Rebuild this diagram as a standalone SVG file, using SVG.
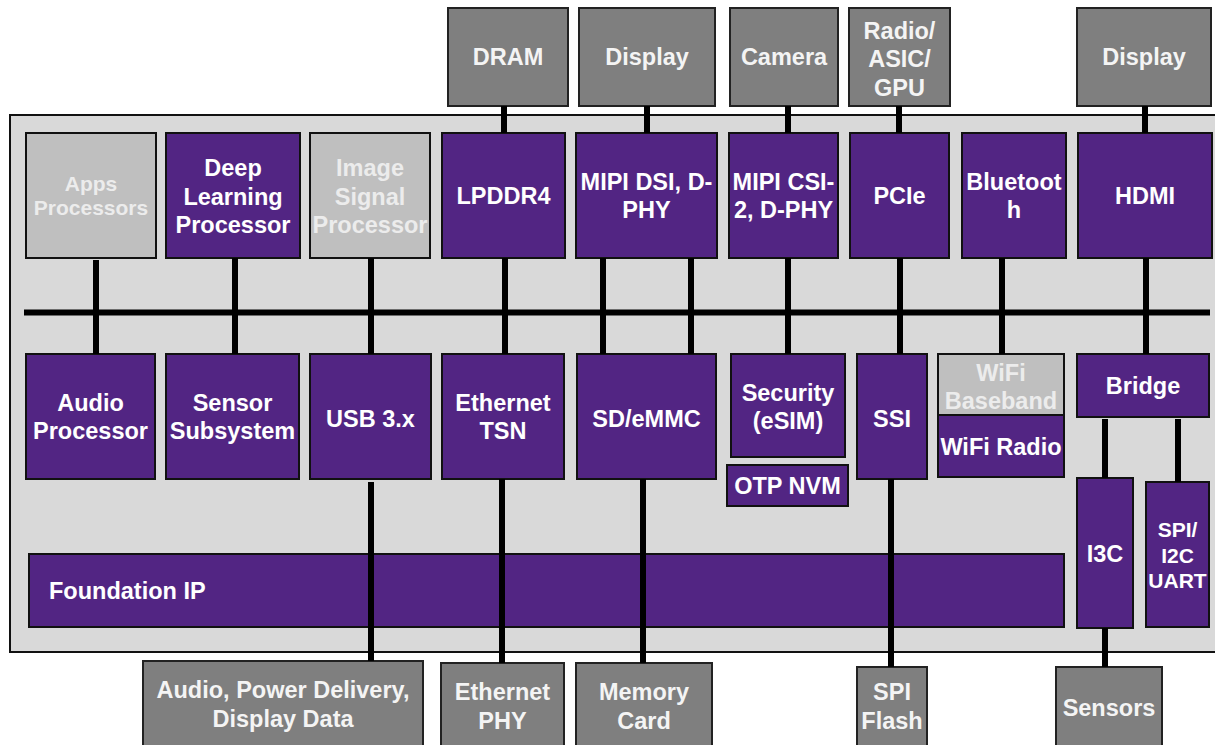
<svg xmlns="http://www.w3.org/2000/svg" width="1215" height="745" viewBox="0 0 1215 745">
<style>
.chip{fill:#d9d9d9;stroke:#111;stroke-width:2}
.p{fill:#522583;stroke:#111;stroke-width:2}
.g{fill:#bfbfbf;stroke:#111;stroke-width:2}
.x{fill:#7f7f7f;stroke:#222;stroke-width:2}
.t{font-family:"Liberation Sans",Arial,sans-serif;font-weight:bold;font-size:23.5px;fill:#ffffff;text-anchor:middle}
.s{font-size:21px}
.l{fill:#ececec}
.w{fill:#f4f4f4}
.c line{stroke:#000;stroke-width:6}
</style>
<rect width="1215" height="745" fill="#ffffff"/>
<g id="chip"><rect class="chip" x="10" y="115" width="1220" height="537"/></g>

<g id="dram"><rect class="x" x="448" y="8" width="120" height="98"/><text class="t w" x="508" y="65">DRAM</text></g>
<g id="display1"><rect class="x" x="579" y="8" width="136" height="98"/><text class="t w" x="647" y="65">Display</text></g>
<g id="camera"><rect class="x" x="730" y="8" width="108" height="98"/><text class="t w" x="784" y="65">Camera</text></g>
<g id="radio"><rect class="x" x="849" y="8" width="101" height="98"/><text class="t w" x="899.5" y="38.5">Radio/</text><text class="t w" x="899.5" y="67">ASIC/</text><text class="t w" x="899.5" y="95.5">GPU</text></g>
<g id="display2"><rect class="x" x="1077" y="8" width="134" height="98"/><text class="t w" x="1144" y="65">Display</text></g>

<g id="apps"><rect class="g" x="26" y="133" width="130" height="125"/><text class="t s l" x="91" y="191">Apps</text><text class="t s l" x="91" y="215">Processors</text></g>
<g id="dlp"><rect class="p" x="166" y="133" width="134" height="125"/><text class="t" x="233" y="176">Deep</text><text class="t" x="233" y="205">Learning</text><text class="t" x="233" y="233">Processor</text></g>
<g id="isp"><rect class="g" x="310" y="133" width="120" height="125"/><text class="t l" x="370" y="176">Image</text><text class="t l" x="370" y="205">Signal</text><text class="t l" x="370" y="233">Processor</text></g>
<g id="lpddr4"><rect class="p" x="442" y="133" width="123" height="125"/><text class="t" x="503.5" y="204">LPDDR4</text></g>
<g id="mipidsi"><rect class="p" x="576" y="133" width="141" height="125"/><text class="t" x="646.5" y="190">MIPI DSI, D-</text><text class="t" x="646.5" y="218">PHY</text></g>
<g id="mipicsi"><rect class="p" x="729" y="133" width="109" height="125"/><text class="t" x="783.5" y="190">MIPI CSI-</text><text class="t" x="783.5" y="218">2, D-PHY</text></g>
<g id="pcie"><rect class="p" x="850" y="133" width="99" height="125"/><text class="t" x="899.5" y="204">PCIe</text></g>
<g id="bluetooth"><rect class="p" x="962" y="133" width="104" height="125"/><text class="t" x="1014" y="190">Bluetoot</text><text class="t" x="1014" y="218">h</text></g>
<g id="hdmi"><rect class="p" x="1078" y="133" width="134" height="125"/><text class="t" x="1145" y="204">HDMI</text></g>

<g id="audio"><rect class="p" x="26" y="354" width="129" height="125"/><text class="t" x="90.5" y="411">Audio</text><text class="t" x="90.5" y="439">Processor</text></g>
<g id="sensor"><rect class="p" x="166" y="354" width="133" height="125"/><text class="t" x="232.5" y="411">Sensor</text><text class="t" x="232.5" y="439">Subsystem</text></g>
<g id="usb"><rect class="p" x="310" y="354" width="121" height="125"/><text class="t" x="370.5" y="426.5">USB 3.x</text></g>
<g id="ethtsn"><rect class="p" x="442" y="354" width="122" height="125"/><text class="t" x="503" y="411">Ethernet</text><text class="t" x="503" y="439">TSN</text></g>
<g id="sd"><rect class="p" x="577" y="354" width="139" height="125"/><text class="t" x="646.5" y="426.5">SD/eMMC</text></g>
<g id="security"><rect class="p" x="731" y="354" width="114" height="103"/><text class="t" x="788" y="400.5">Security</text><text class="t" x="788" y="429">(eSIM)</text></g>
<g id="otp"><rect class="p" x="727" y="465" width="121" height="41"/><text class="t" x="787.5" y="494">OTP NVM</text></g>
<g id="ssi"><rect class="p" x="857" y="354" width="70" height="125"/><text class="t" x="892" y="426.5">SSI</text></g>
<g id="wifibb"><rect class="g" x="938" y="354" width="126" height="61"/><text class="t l" x="1001" y="381">WiFi</text><text class="t l" x="1001" y="409">Baseband</text></g>
<g id="wifiradio"><rect class="p" x="938" y="415" width="126" height="62"/><text class="t" x="1001" y="455">WiFi Radio</text></g>
<g id="bridge"><rect class="p" x="1077" y="354" width="132" height="63"/><text class="t" x="1143" y="394">Bridge</text></g>
<g id="i3c"><rect class="p" x="1077" y="478" width="56" height="150"/><text class="t" x="1105" y="561.5">I3C</text></g>
<g id="spi"><rect class="p" x="1146" y="482" width="63" height="145"/><text class="t s" x="1177.5" y="536.5">SPI/</text><text class="t s" x="1177.5" y="562.5">I2C</text><text class="t s" x="1177.5" y="587.5">UART</text></g>
<g id="foundation"><rect class="p" x="29" y="554" width="1035" height="73"/><text class="t" x="49" y="599" text-anchor="start" style="text-anchor:start">Foundation IP</text></g>

<g id="audiopd"><rect class="x" x="143" y="661" width="280" height="90"/><text class="t w" x="283" y="697.5">Audio, Power Delivery,</text><text class="t w" x="283" y="726.5">Display Data</text></g>
<g id="ethphy"><rect class="x" x="441" y="663" width="123" height="90"/><text class="t w" x="502.5" y="700">Ethernet</text><text class="t w" x="502.5" y="728.5">PHY</text></g>
<g id="memcard"><rect class="x" x="576" y="663" width="136" height="90"/><text class="t w" x="644" y="700">Memory</text><text class="t w" x="644" y="728.5">Card</text></g>
<g id="spiflash"><rect class="x" x="857" y="667" width="70" height="90"/><text class="t w" x="892" y="700">SPI</text><text class="t w" x="892" y="728.5">Flash</text></g>
<g id="sensors"><rect class="x" x="1056" y="667" width="106" height="90"/><text class="t w" x="1109" y="715.5">Sensors</text></g>

<g id="connectors" class="c">
<line x1="504" y1="106" x2="504" y2="133"/>
<line x1="647" y1="106" x2="647" y2="133"/>
<line x1="788" y1="106" x2="788" y2="133"/>
<line x1="899" y1="106" x2="899" y2="133"/>
<line x1="1145" y1="106" x2="1145" y2="133"/>
<line x1="24" y1="312.5" x2="1210" y2="312.5"/>
<line x1="96" y1="260" x2="96" y2="354"/>
<line x1="235" y1="258" x2="235" y2="354"/>
<line x1="371" y1="258" x2="371" y2="354"/>
<line x1="505" y1="258" x2="505" y2="354"/>
<line x1="603" y1="258" x2="603" y2="354"/>
<line x1="691" y1="258" x2="691" y2="354"/>
<line x1="788" y1="258" x2="788" y2="354"/>
<line x1="900" y1="258" x2="900" y2="354"/>
<line x1="1002" y1="258" x2="1002" y2="354"/>
<line x1="1146" y1="258" x2="1146" y2="354"/>
<line x1="371" y1="482" x2="371" y2="661"/>
<line x1="502" y1="479" x2="502" y2="663"/>
<line x1="643" y1="479" x2="643" y2="663"/>
<line x1="891" y1="479" x2="891" y2="667"/>
<line x1="1105" y1="419" x2="1105" y2="478"/>
<line x1="1178" y1="419" x2="1178" y2="482"/>
<line x1="1105" y1="628" x2="1105" y2="667"/>
</g>
</svg>
